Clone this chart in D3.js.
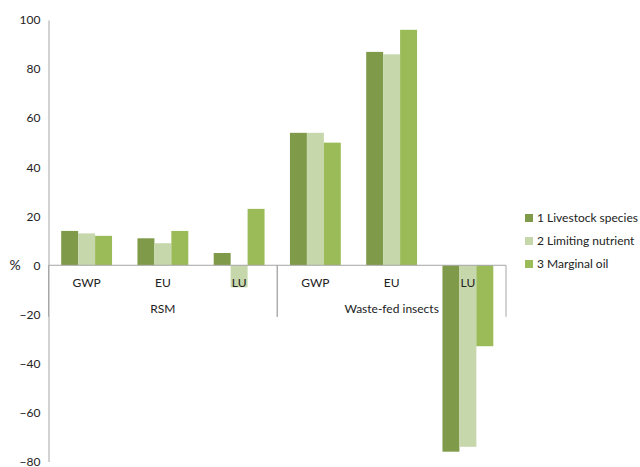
<!DOCTYPE html>
<html>
<head>
<meta charset="utf-8">
<script src="https://cdn.jsdelivr.net/npm/d3@7"></script>
<style>
  html, body { margin: 0; padding: 0; background: #fff; }
  svg text { font-family: Lato, "Open Sans", sans-serif; fill: #222; }
</style>
</head>
<body>
<svg id="chart" width="640" height="467"></svg>
<script>
// Change in impact (%) by indicator, for two feed options
const groups = ["RSM", "Waste-fed insects"];
const indicators = ["GWP", "EU", "LU"];
const seriesNames = ["1 Livestock species", "2 Limiting nutrient", "3 Marginal oil"];
const seriesColors = ["#7f9a48", "#c6d7ab", "#9bbb59"];

// values per category (group × indicator), one array per series
const livestock = [14, 11, 5, 54, 87, -76];
const limiting  = [13, 9, -9, 54, 86, -74];
const marginal  = [12, 14, 23, 50, 96, -33];
const yTicks = [100, 80, 60, 40, 20, 0, -20, -40, -60, -80];

const seriesValues = [livestock, limiting, marginal];
const categories = [];
groups.forEach(g => indicators.forEach(ind => categories.push({ key: g + "|" + ind, group: g, label: ind })));

const svg = d3.select("#chart");
const plotLeft = 48.5, plotRight = 506, plotTop = 20, plotBottom = 461.5;

const y = d3.scaleLinear().domain([-80, 100]).range([plotBottom, plotTop]);
const x = d3.scaleBand().domain(categories.map(c => c.key)).range([plotLeft, plotRight]).paddingInner(0).paddingOuter(0);
const xs = d3.scaleBand().domain(seriesNames).range([0, x.bandwidth()]).paddingInner(0).paddingOuter(0.75);

const axisColor = "#a6a6a6";

// y axis labels
const yAxis = d3.axisLeft(y).tickValues(yTicks).tickSize(0).tickPadding(8).tickFormat(d3.format("d"));
const gy = svg.append("g").attr("transform", `translate(${plotLeft},0)`).call(yAxis);
gy.select(".domain").attr("stroke", axisColor);
gy.selectAll("text").style("font-size", "12px").style("font-family", "Lato, sans-serif").attr("fill", "#222");

svg.append("text").attr("x", 15).attr("y", y(0)).attr("dy", "0.35em")
  .attr("text-anchor", "middle").style("font-size", "14px").text("%");

// bars
seriesNames.forEach((s, si) => {
  svg.append("g").selectAll("rect")
    .data(categories.map((c, i) => ({ c, v: seriesValues[si][i] })))
    .join("rect")
    .attr("x", d => x(d.c.key) + xs(s))
    .attr("width", xs.bandwidth())
    .attr("y", d => y(Math.max(0, d.v)))
    .attr("height", d => Math.abs(y(d.v) - y(0)))
    .attr("fill", seriesColors[si]);
});

// category axis
svg.append("line").attr("x1", plotLeft).attr("x2", plotRight).attr("y1", y(0)).attr("y2", y(0))
  .attr("stroke", axisColor);
const sepBottom = y(-21);
groups.forEach((g, gi) => {
  const first = x(g + "|" + indicators[0]);
  const last = x(g + "|" + indicators[indicators.length - 1]) + x.bandwidth();
  [first, last].forEach(px => {
    svg.append("line").attr("x1", px).attr("x2", px).attr("y1", y(0)).attr("y2", sepBottom)
      .attr("stroke", axisColor);
  });
  svg.append("text").attr("x", (first + last) / 2).attr("y", 309).attr("dy", "0.35em")
    .attr("text-anchor", "middle").style("font-size", "12px").text(g);
});

svg.append("g").selectAll("text").data(categories).join("text")
  .attr("x", d => x(d.key) + x.bandwidth() / 2)
  .attr("y", 283).attr("dy", "0.35em")
  .attr("text-anchor", "middle").style("font-size", "12px")
  .text(d => d.label);

// legend
const legend = svg.append("g").attr("transform", "translate(525,218)");
seriesNames.forEach((s, i) => {
  const row = legend.append("g").attr("transform", `translate(0,${i * 23})`);
  row.append("rect").attr("x", 0).attr("y", -4).attr("width", 8).attr("height", 8).attr("fill", seriesColors[i]);
  row.append("text").attr("x", 12).attr("y", 0).attr("dy", "0.35em").style("font-size", "12px").text(s);
});
</script>
</body>
</html>
